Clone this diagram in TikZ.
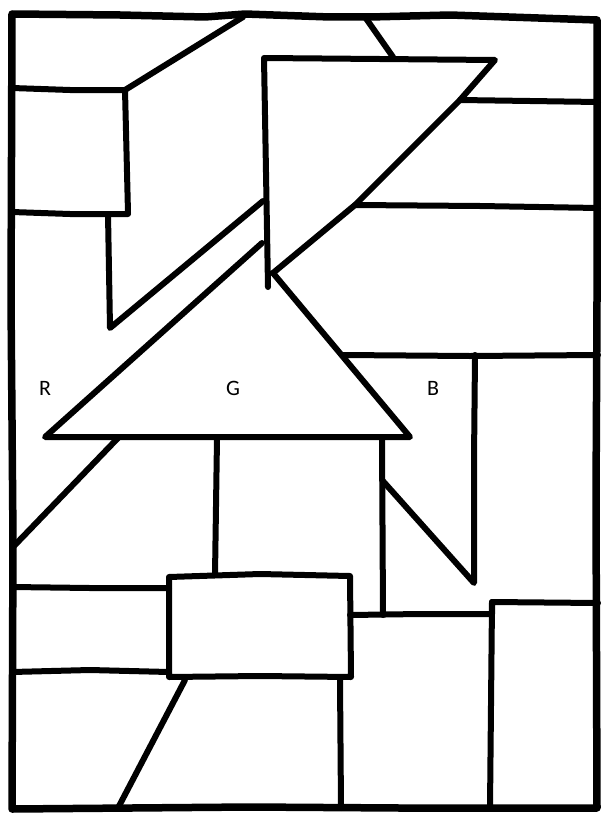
\documentclass[tikz,border=0pt]{standalone}
\usepackage{fontspec}
\setmainfont{Carlito}
\begin{document}
\begin{tikzpicture}[x=1pt,y=-1pt,
  ink/.style={line width=6pt,line join=round,line cap=round},
  frame/.style={line width=7.5pt,line join=round,line cap=round},
  lbl/.style={font=\fontsize{22}{24}\selectfont,inner sep=0pt}]
\useasboundingbox[fill=white] (0,0) rectangle (603,816);
% outer frame
\draw[frame] (12,14) -- (120,15) -- (205,17) -- (245,14) -- (330,17) -- (370,17) -- (450,15) -- (597,20)
  -- (597,300) -- (596,500) -- (597,808) -- (400,808) -- (250,807) -- (12,809) -- (13,540) -- (11,300) -- cycle;
% top-left
\draw[ink] (243,17) -- (125,90);
\draw[ink] (12,88) -- (70,90) -- (125,90) -- (128,213);
\draw[ink] (12,212) -- (70,214) -- (128,214);
\draw[ink] (108,214) -- (110,328) -- (263,201);
% upper triangle
\draw[ink] (268,287) -- (264,58) -- (495,60) -- (460,100) -- (355,205) -- (273,273);
\draw[ink] (365,17) -- (393,57);
\draw[ink] (460,100) -- (530,101) -- (598,102);
\draw[ink] (355,205) -- (480,206) -- (598,208);
% G triangle
\draw[ink] (262,243) -- (45,437) -- (410,437) -- (273,273);
\draw[ink] (118,438) -- (13,547);
\draw[ink] (217,438) -- (215,575);
% middle rectangle
\draw[ink] (169,577) -- (260,574) -- (350,576) -- (351,677) -- (260,676) -- (169,677) -- cycle;
\draw[ink] (12,587) -- (90,588) -- (169,588);
\draw[ink] (12,672) -- (90,670) -- (169,672);
\draw[ink] (185,680) -- (118,808);
\draw[ink] (340,680) -- (341,808);
% right side
\draw[ink] (343,355) -- (470,356) -- (598,355);
\draw[ink] (475,355) -- (474,460) -- (474,583) -- (382,480);
\draw[ink] (382,437) -- (383,615);
\draw[ink] (350,615) -- (420,614) -- (492,614) -- (492,602) -- (598,603);
\draw[ink] (492,602) -- (490,808);
% labels
\node[lbl] (R) at (45,388) {R};
\node[lbl] (G) at (233,388) {G};
\node[lbl] (B) at (433,388) {B};
\end{tikzpicture}
\end{document}
